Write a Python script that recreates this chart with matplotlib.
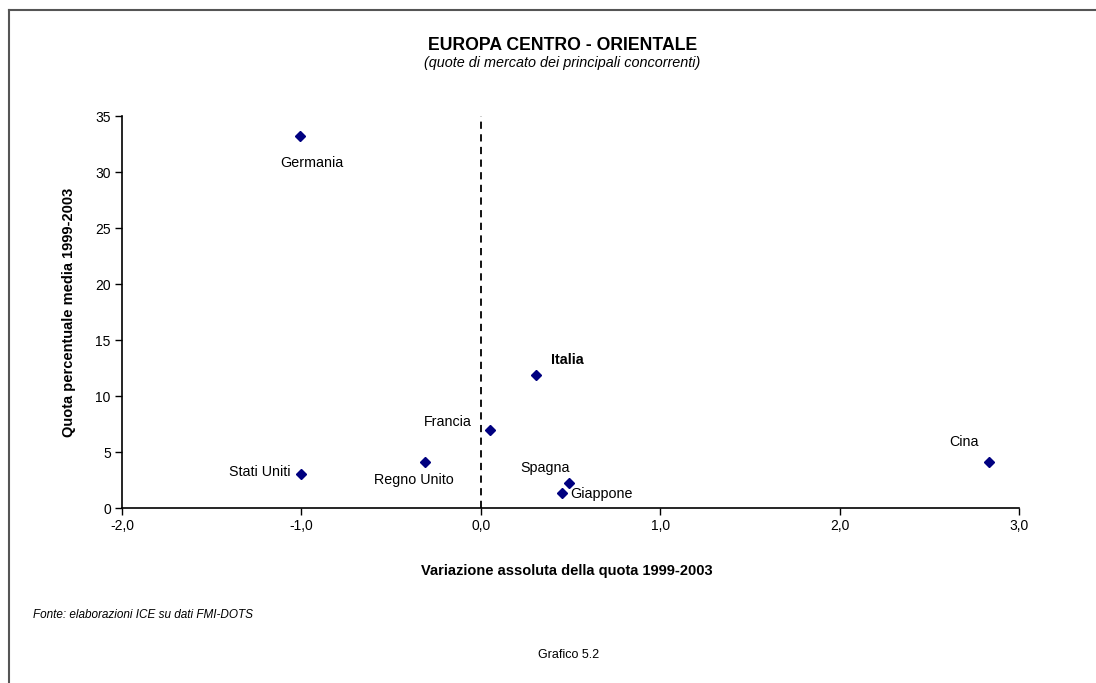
#! /usr/bin/env python3

import matplotlib
matplotlib.use('Agg')
import matplotlib.pyplot as plt
from matplotlib.lines import Line2D

plt.rcParams['font.family'] = ['Liberation Sans', 'DejaVu Sans']

# paesi concorrenti: variazione quota 1999-2003, quota media 1999-2003
countries = ['Germania', 'Stati Uniti', 'Regno Unito', 'Francia', 'Italia', 'Spagna', 'Giappone', 'Cina']
variation = [-1.01, -1.0, -0.31, 0.05, 0.31, 0.49, 0.45, 2.83]
share = [33.2, 3.1, 4.1, 7.0, 11.9, 2.25, 1.4, 4.1]

# label offsets in points, alignment
label_pos = {
    'Germania': ((9, -19), 'center', 'center'),
    'Stati Uniti': ((-8, 1), 'right', 'center'),
    'Regno Unito': ((-8, -13), 'center', 'center'),
    'Francia': ((-13, 6), 'right', 'center'),
    'Italia': ((22, 11), 'center', 'center'),
    'Spagna': ((-17, 11), 'center', 'center'),
    'Giappone': ((6, -1), 'left', 'center'),
    'Cina': ((-18, 15), 'center', 'center'),
}

fig = plt.figure(figsize=(10.96, 6.83), dpi=100)
ax = fig.add_axes([0.1113, 0.2558, 0.8186, 0.5739])

ax.plot(variation, share, 'D', color='#000080', markersize=5, linestyle='none', zorder=3)
ax.plot([0, 0], [0, 35], color='black', linestyle=(0, (4, 3)), linewidth=1.3, zorder=2)

for name, x, y in zip(countries, variation, share):
    off, ha, va = label_pos[name]
    ax.annotate(name, (x, y), xytext=off, textcoords='offset points',
                ha=ha, va=va, fontsize=10.3,
                fontweight='bold' if name == 'Italia' else 'normal')

ax.set_xlim(-2, 3)
ax.set_ylim(0, 35)
ax.set_xticks([-2, -1, 0, 1, 2, 3])
ax.set_xticklabels(['-2,0', '-1,0', '0,0', '1,0', '2,0', '3,0'])
ax.set_yticks(range(0, 36, 5))
ax.tick_params(direction='out', length=5, width=1, labelsize=10, pad=3)
ax.spines['top'].set_visible(False)
ax.spines['right'].set_visible(False)
ax.spines['left'].set_linewidth(1.2)
ax.spines['bottom'].set_linewidth(1.2)

ax.set_ylabel('Quota percentuale media 1999-2003', fontsize=10.5, fontweight='bold', labelpad=14)
fig.text(0.517, 1 - 571 / 683, 'Variazione assoluta della quota 1999-2003', ha='center', va='center',
         fontsize=10.5, fontweight='bold')

fig.text(0.513, 1 - 45 / 683, 'EUROPA CENTRO - ORIENTALE', ha='center', va='center',
         fontsize=12.7, fontweight='bold')
fig.text(0.513, 1 - 63 / 683, '(quote di mercato dei principali concorrenti)', ha='center', va='center',
         fontsize=10.4, style='italic')
fig.text(33 / 1096, 1 - 615 / 683, 'Fonte: elaborazioni ICE su dati FMI-DOTS', ha='left', va='center',
         fontsize=8.5, style='italic')
fig.text(0.519, 1 - 655 / 683, 'Grafico 5.2', ha='center', va='center', fontsize=9)

# cornice (solo lati sinistro e superiore visibili)
fig.add_artist(Line2D([9 / 1096, 9 / 1096], [0, 1 - 10 / 683], color='#555555', linewidth=1.5,
                      transform=fig.transFigure))
fig.add_artist(Line2D([9 / 1096, 1], [1 - 10 / 683, 1 - 10 / 683], color='#555555', linewidth=1.5,
                      transform=fig.transFigure))

fig.savefig('out.png', dpi=100)
plt.close('all')
